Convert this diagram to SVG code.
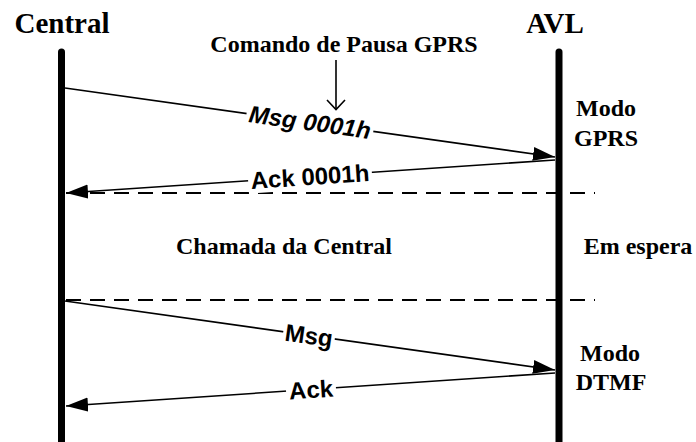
<svg xmlns="http://www.w3.org/2000/svg" width="696" height="442" viewBox="0 0 696 442">
<style>
.title{font-family:"Liberation Serif","Times New Roman",serif;font-weight:bold;font-size:29px;fill:#000;text-anchor:middle}
.note{font-family:"Liberation Serif","Times New Roman",serif;font-weight:bold;font-size:24px;fill:#000;text-anchor:middle}
.life{stroke:#000;stroke-width:7;stroke-linecap:round;fill:none}
.msg{stroke:#000;stroke-width:1.6;fill:none}
.dash{stroke:#000;stroke-width:1.8;stroke-dasharray:15 9;fill:none}
.lbl{font-family:"Liberation Sans",Arial,sans-serif;font-weight:bold;font-size:24px;fill:#000;text-anchor:middle}
.bg{fill:#fff}
</style>
<defs>
<marker id="ah" markerUnits="userSpaceOnUse" markerWidth="24" markerHeight="16" refX="22" refY="7" orient="auto">
<path d="M0,0 L22,7 L0,14 Z" fill="#000"/>
</marker>
</defs>
<rect width="696" height="442" fill="#fff"/>
<g id="separators">
<line class="dash" x1="66" y1="193" x2="595" y2="193"/>
<line class="dash" x1="66" y1="300" x2="595" y2="300"/>
</g>
<g id="central">
<text class="title" x="62" y="33">Central</text>
<line class="life" x1="61.5" y1="52" x2="61.5" y2="450"/>
</g>
<g id="avl">
<text class="title" x="555" y="33">AVL</text>
<line class="life" x1="559" y1="52" x2="559" y2="450"/>
</g>
<g id="connectors">
<line class="msg" x1="65" y1="88" x2="555" y2="157" marker-end="url(#ah)"/>
<line class="msg" x1="555" y1="160" x2="66" y2="193" marker-end="url(#ah)"/>
<line class="msg" x1="65" y1="301" x2="555" y2="370" marker-end="url(#ah)"/>
<line class="msg" x1="555" y1="373" x2="66" y2="406" marker-end="url(#ah)"/>
<g transform="translate(310,122) rotate(8)">
<rect class="bg" x="-64" y="-13" width="128" height="26"/>
<text class="lbl" x="0" y="8.5" font-style="italic">Msg 0001h</text>
</g>
<g transform="translate(310,176.5) rotate(-3.85)">
<rect class="bg" x="-62" y="-13" width="124" height="26"/>
<text class="lbl" x="0" y="8.5">Ack 0001h</text>
</g>
<g transform="translate(309,335.4) rotate(8)">
<rect class="bg" x="-26" y="-13" width="52" height="26"/>
<text class="lbl" x="0" y="8.5">Msg</text>
</g>
<g transform="translate(311,389.5) rotate(-3.85)">
<rect class="bg" x="-25" y="-13" width="50" height="26"/>
<text class="lbl" x="0" y="8.5">Ack</text>
</g>
</g>
<g id="command">
<text class="note" x="344" y="52" font-size="25">Comando de Pausa GPRS</text>
<line x1="336" y1="60" x2="336" y2="109" stroke="#000" stroke-width="1.6"/>
<polyline points="327,100 336,109.5 345,100" fill="none" stroke="#000" stroke-width="1.6"/>
</g>
<g id="states">
<text class="note" x="606" y="116">Modo</text>
<text class="note" x="606" y="146">GPRS</text>
<text class="note" x="284" y="254">Chamada da Central</text>
<text class="note" x="638" y="254">Em espera</text>
<text class="note" x="610" y="361">Modo</text>
<text class="note" x="611" y="390">DTMF</text>
</g>
</svg>
